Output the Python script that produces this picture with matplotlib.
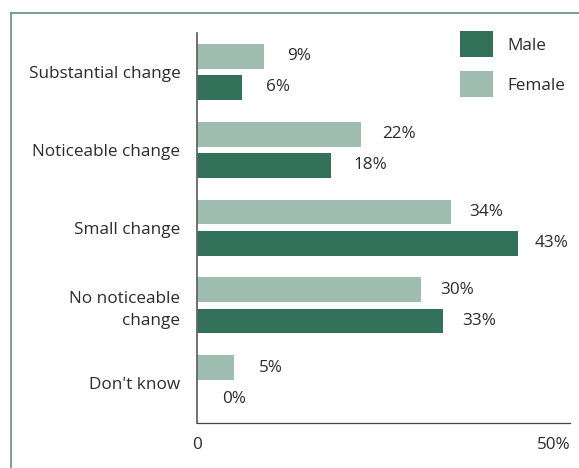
import matplotlib.pyplot as plt
from matplotlib.lines import Line2D

plt.rcParams['font.family'] = ['Open Sans', 'DejaVu Sans']

categories = ["Substantial change", "Noticeable change", "Small change",
              "No noticeable\nchange", "Don't know"]
male = [6, 18, 43, 33, 0]
female = [9, 22, 34, 30, 5]

male_color = "#34715a"
female_color = "#a0bdb1"
text_color = "#2b2b2b"
fs = 12.3

W, H = 579, 468
fig = plt.figure(figsize=(W / 100, H / 100), dpi=100)

# outer frame (left and top edges only show)
frame_color = "#6f9a8a"
fig.add_artist(Line2D([11 / W, 11 / W], [0, 1 - 13 / H], color=frame_color, lw=1.3))
fig.add_artist(Line2D([11 / W, 1], [1 - 13 / H, 1 - 13 / H], color=frame_color, lw=1.3))

left, right, top, bottom = 197, 570, 33, 423
ax = fig.add_axes([left / W, 1 - bottom / H, (right - left) / W, (bottom - top) / H])

pos = list(range(len(categories)))
h = 0.32
off = 0.2
ax.barh([p - off for p in pos], female, height=h, color=female_color, label="Female")
ax.barh([p + off for p in pos], male, height=h, color=male_color, label="Male")

ax.set_xlim(0, 50)
ax.set_ylim(4.51, -0.5)


def label_gap(v):
    # value labels creep slightly closer to the longer bars
    return 25 - 0.18 * v


for p, v in zip(pos, female):
    ax.annotate(f"{v}%", (v, p - off), xytext=(label_gap(v), 0), textcoords="offset pixels",
                va="center", ha="left", fontsize=fs, color=text_color)
for p, v in zip(pos, male):
    ax.annotate(f"{v}%", (v, p + off), xytext=(label_gap(v), 0), textcoords="offset pixels",
                va="center", ha="left", fontsize=fs, color=text_color)

ax.set_yticks(pos)
ax.set_yticklabels(categories, fontsize=fs, color=text_color, ha="right")
for t in ax.get_yticklabels():
    t.set_linespacing(1.45)
ax.tick_params(axis="y", length=0, pad=12)

ax.set_xticks([0, 50])
ax.set_xticklabels(["0", "50%"], fontsize=fs, color=text_color)
ax.get_xticklabels()[1].set_ha("right")
ax.tick_params(axis="x", length=0, pad=10)

for s in ["top", "right"]:
    ax.spines[s].set_visible(False)
ax.spines["left"].set_color("#666666")
ax.spines["left"].set_linewidth(1.3)
ax.spines["bottom"].set_color("#444444")
ax.spines["bottom"].set_linewidth(0.9)

handles, labels = ax.get_legend_handles_labels()
ax.legend(handles[::-1], labels[::-1], loc="upper right",
          bbox_to_anchor=(1.0 - 5 / (right - left), 1.0 + 2 / (bottom - top)),
          frameon=False, fontsize=fs, handlelength=1.9, handleheight=2.0,
          handletextpad=0.85, labelspacing=0.8, borderaxespad=0.0, borderpad=0.0,
          labelcolor=text_color)

fig.savefig("out.png", dpi=100)
